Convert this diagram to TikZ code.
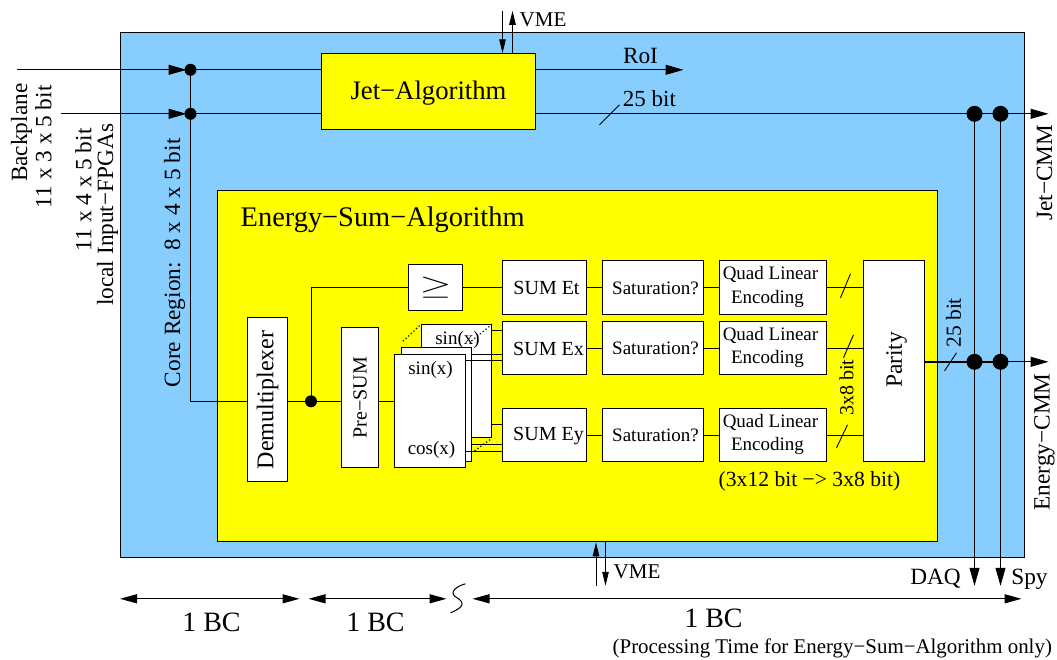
\documentclass[tikz,border=0pt]{standalone}
\usepackage{fontspec}
\setmainfont{Liberation Serif}
\usetikzlibrary{arrows.meta,calc}
\definecolor{skyb}{HTML}{87CEFF}
\definecolor{yel}{HTML}{FFFF00}
\newcommand{\fsz}[1]{\fontsize{#1}{#1}\selectfont}
\tikzset{
  wire/.style={line width=1pt,draw=black},
  big/.style={-{Triangle[length=18pt,width=10pt]},wire},
  small/.style={-{Triangle[length=14pt,width=6.5pt]},wire},
  dimarrow/.style={{Triangle[length=17pt,width=9pt]}-{Triangle[length=17pt,width=9pt]},wire,line width=1.2pt},
  blockbox/.style={draw=black,line width=1pt,fill=white,inner sep=0pt,align=center},
  frame/.style={draw=black,line width=1pt,inner sep=0pt},
  txt/.style={inner sep=0pt,text=black},
  dot/.style={circle,fill=black,inner sep=0pt,minimum size=#1},
  dot/.default=12pt,
  tick/.style={line width=0.9pt},
  dots/.style={line width=1.2pt,dash pattern=on 1.2pt off 2.4pt},
}
\begin{document}
\begin{tikzpicture}[x=1pt,y=-1pt]
\useasboundingbox (0.5,-0.8) rectangle (1057.5,659.2);
% containers
\node[frame,fill=skyb,minimum width=904pt,minimum height=525pt] (outer) at (573,294.5) {};
\node[frame,fill=yel,minimum width=214pt,minimum height=76pt] (jet) at (429,91) {};
\node[txt] (jett) at (429,92) {\fsz{26.7}Jet−Algorithm};
\node[frame,fill=yel,minimum width=720pt,minimum height=351pt] (energy) at (578,365.5) {};
\node[txt,anchor=west] (energyt) at (241,219) {\fsz{28.4}Energy−Sum−Algorithm};
% blocks
\node[blockbox,minimum width=40pt,minimum height=164pt] (demux) at (268,399) {\rotatebox{90}{\fsz{24}Demultiplexer}};
\node[blockbox,minimum width=37pt,minimum height=140pt] (presum) at (360.5,397) {\rotatebox{90}{\fsz{20}Pre−SUM}};
\node[blockbox,minimum width=70pt,minimum height=113pt] (cardb) at (457,380.5) {};
\node[txt] (sinb) at (458,339) {\fsz{19}sin(x)};
\node[blockbox,minimum width=70pt,minimum height=114pt] (cardm) at (437,404) {};
\node[blockbox,minimum width=71pt,minimum height=113pt] (cardf) at (430.5,410.5) {};
\node[txt] (sinf) at (431,369) {\fsz{19}sin(x)};
\node[txt] (cosf) at (432,449) {\fsz{19}cos(x)};
\node[blockbox,minimum width=54pt,minimum height=46pt] (ge) at (436,287) {};
\node[txt] (get) at (436,287) {\scalebox{1.65}[1.1]{\fsz{44}$\geq$}};
\node[blockbox,minimum width=84pt,minimum height=54pt] (sumt) at (545,287) {};
\node[blockbox,minimum width=84pt,minimum height=53pt] (sumx) at (545,347.5) {};
\node[blockbox,minimum width=84pt,minimum height=53pt] (sumy) at (545,434.5) {};
\node[txt] (sumtt) at (547,287) {\fsz{20}SUM Et};
\node[txt] (sumxt) at (549,348) {\fsz{20}SUM Ex};
\node[txt] (sumyt) at (549,435) {\fsz{20}SUM Ey};
\node[blockbox,minimum width=101pt,minimum height=54pt] (satt) at (653.5,287) {};
\node[blockbox,minimum width=101pt,minimum height=53pt] (satx) at (653.5,347.5) {};
\node[blockbox,minimum width=101pt,minimum height=53pt] (saty) at (653.5,434.5) {};
\node[txt] (sattt) at (656,288) {\fsz{19}Saturation?};
\node[txt] (satxt) at (656,348) {\fsz{19}Saturation?};
\node[txt] (satyt) at (656,435) {\fsz{19}Saturation?};
\node[blockbox,minimum width=107pt,minimum height=54pt] (quadt) at (773.5,287) {};
\node[blockbox,minimum width=107pt,minimum height=53pt] (quadx) at (773.5,347.5) {};
\node[blockbox,minimum width=107pt,minimum height=53pt] (quady) at (773.5,434.5) {};
\node[txt] (q1a) at (771,274) {\fsz{19}Quad Linear};
\node[txt] (q1b) at (768,298) {\fsz{19}Encoding};
\node[txt] (q2a) at (771,335) {\fsz{19}Quad Linear};
\node[txt] (q2b) at (768,358) {\fsz{19}Encoding};
\node[txt] (q3a) at (771,422) {\fsz{19}Quad Linear};
\node[txt] (q3b) at (768,445) {\fsz{19}Encoding};
\node[blockbox,minimum width=61pt,minimum height=201pt] (parity) at (894.5,360.5) {};
\node[txt,rotate=90] (parityt) at (897,359) {\fsz{23.5}Parity};
% junctions
\node[dot=12pt] (d1) at (191,69) {};
\node[dot=12pt] (d2) at (191,113) {};
\node[dot=12pt] (d3) at (311.5,400.5) {};
\node[dot=16pt] (d4) at (975,113) {};
\node[dot=16pt] (d5) at (1001,113) {};
\node[dot=16pt] (d6) at (975,361) {};
\node[dot=16pt] (d7) at (1001,361) {};
% free ends
\coordinate (bpin) at (17,69);
\coordinate (lcin) at (61,113);
\coordinate (roi) at (684,69);
\coordinate (jetout) at (1049,113);
\coordinate (enout) at (1049,361);
\coordinate (daq) at (975,585);
\coordinate (spy) at (1001,585);
% input wires
\draw[big,shorten >=4pt] (bpin) -- (d1.center);
\draw[big,shorten >=4pt] (lcin) -- (d2.center);
\draw[wire] (d1.center) -- (jet.west |- d1);
\draw[wire] (d2.center) -- (jet.west |- d2);
\draw[wire] (d1.center) |- (demux.west |- d3);
\draw[wire] (demux.east |- d3) -- (d3.center) -- (presum.west |- d3);
\draw[wire] (d3.center) |- (ge.west);
\draw[wire] (ge.east) -- (sumt.west);
\draw[wire] (presum.east |- d3) -- (cardf.west |- d3);
% cards to sums
\draw[wire] (cardb.east |- 0,330) -- (sumx.west |- 0,330);
\draw[wire] (cardm.east |- 0,354) -- (sumx.west |- 0,354);
\draw[wire] (cardf.east |- 0,360) -- (sumx.west |- 0,360);
\draw[wire] (cardb.east |- 0,424) -- (sumy.west |- 0,424);
\draw[wire] (cardm.east |- 0,444) -- (sumy.west |- 0,444);
\draw[wire] (cardf.east |- 0,451) -- (sumy.west |- 0,451);
\draw[dots] (cardm.north west) ++(2,-6) -- (cardb.north west);
\draw[dots] (472,340) -- (cardb.north east);
\draw[dots] (475,450) -- (cardb.south east);
% chain
\foreach \a/\b in {sumt/satt,sumx/satx,sumy/saty,satt/quadt,satx/quadx,saty/quady}{\draw[wire] (\a.east) -- (\b.west);}
\foreach \a in {quadt,quadx,quady}{\draw[wire] (\a.east) -- (parity.west |- \a);}
% outputs
\draw[big] (jet.east |- roi) -- (roi);
\draw[big] (jet.east |- d4) -- (jetout);
\draw[line width=1.8pt] (parity.east |- d6) -- (d7.center);
\draw[big] (d7.center) -- (enout);
\draw[big] (d4.center) -- (daq);
\draw[big] (d5.center) -- (spy);
% ticks
\draw[tick] (600,124) -- (620,104);
\draw[tick] (841,297) -- (851,273);
\draw[tick] (844,357) -- (854,334);
\draw[tick] (837,447) -- (848,424);
\draw[tick] (945,370) -- (957,352);
% VME
\coordinate (vt1) at (503,10);
\coordinate (vt2) at (513,10);
\coordinate (vb1) at (596.5,585);
\coordinate (vb2) at (606,585);
\draw[small] (vt1) -- (vt1 |- jet.north);
\draw[small] (vt2 |- jet.north) -- (vt2);
\draw[small] (vb1) -- (vb1 |- energy.south);
\draw[small] (vb2 |- energy.south) -- (vb2);
% labels
\node[txt] (roit) at (641,55) {\fsz{23.3}RoI};
\node[txt] (b25) at (650,98) {\fsz{23}25 bit};
\node[txt,anchor=west] (vme1) at (520,19) {\fsz{21}VME};
\node[txt,anchor=west] (vme2) at (614,571) {\fsz{21}VME};
\node[txt] (daqt) at (936,578) {\fsz{23.3}DAQ};
\node[txt] (spyt) at (1030,578) {\fsz{23.3}Spy};
\node[txt,rotate=90] (l1) at (22,132) {\fsz{23.3}Backplane};
\node[txt,rotate=90] (l2) at (44,146) {\fsz{23.3}11 x 3 x 5 bit};
\node[txt,rotate=90] (l3) at (84,189) {\fsz{23.3}11 x 4 x 5 bit};
\node[txt,rotate=90] (l4) at (108,214) {\fsz{23.3}local Input−FPGAs};
\node[txt,rotate=90] (l5) at (175,262) {\fsz{23.3}Core Region:\ \ 8 x 4 x 5 bit};
\node[txt,rotate=90] (l6) at (1045,172) {\fsz{23.3}Jet−CMM};
\node[txt,rotate=90] (l7) at (1045,441) {\fsz{23.3}Energy−CMM};
\node[txt,rotate=90] (l8) at (954,322) {\fsz{21.5}25 bit};
\node[txt,rotate=90] (l9) at (847,387) {\fsz{20}3x8 bit};
\node[txt] (qt) at (810,481) {\fsz{21.6}(3x12 bit −> 3x8 bit)};
% timing
\draw[dimarrow] (outer.west |- 0,598) -- (300,598);
\draw[dimarrow] (309,598) -- (447,598);
\draw[dimarrow] (473,598) -- (1022,598);
\draw[line width=1pt] (466,583) .. controls (458,585) and (449,591) .. (456,596) .. controls (465,601) and (466,606) .. (451,612);
\node[txt] (bc1) at (212,622) {\fsz{28}1 BC};
\node[txt] (bc2) at (376,622) {\fsz{28}1 BC};
\node[txt] (bc3) at (714,618) {\fsz{28}1 BC};
\node[txt,anchor=west] (proc) at (613,648) {\fsz{20.9}(Processing Time for Energy−Sum−Algorithm only)};
\end{tikzpicture}
\end{document}
